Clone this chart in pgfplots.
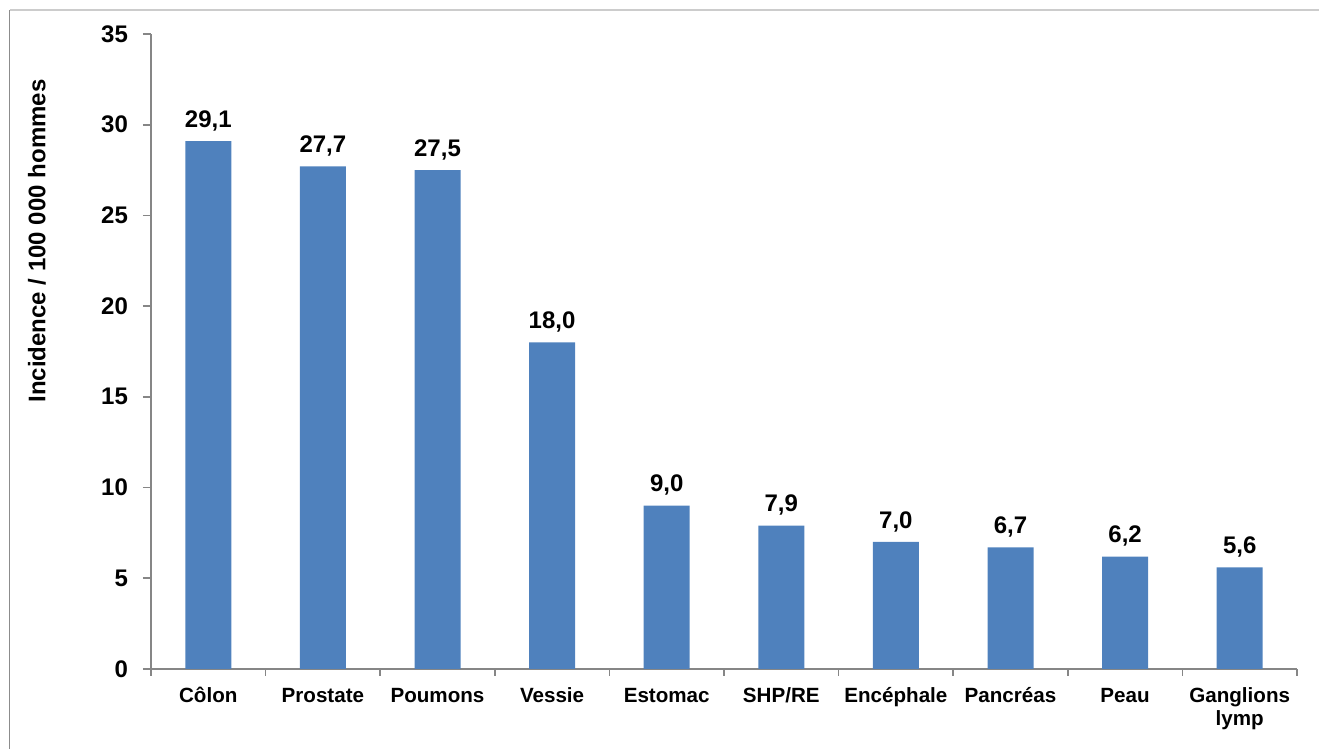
\documentclass[border=0pt]{standalone}
\usepackage{fontspec}
\setmainfont{Liberation Sans}
\usepackage{pgfplots}
\pgfplotsset{compat=1.18}
\definecolor{barblue}{HTML}{4F81BD}
\definecolor{axgray}{HTML}{868686}
\begin{document}
\begin{tikzpicture}
\useasboundingbox (0,0) rectangle (659.5pt,374.5pt);
\draw[color=black!45, line width=0.7pt] (4.75pt,0) -- (4.75pt,369.5pt);
\draw[color=black!20, line width=0.7pt] (4.75pt,369.5pt) -- (659.5pt,369.5pt);
\begin{axis}[
  at={(75.5pt,40pt)}, anchor=south west,
  scale only axis, width=573pt, height=317.5pt,
  xmin=-0.5, xmax=9.5, ymin=0, ymax=35,
  ytick={0,5,...,35},
  xtick={0,...,9},
  xticklabels={Côlon,Prostate,Poumons,Vessie,Estomac,SHP/RE,Encéphale,Pancréas,Peau,{\renewcommand{\arraystretch}{0.95}\begin{tabular}[t]{@{}c@{}}Ganglions\\lymp\end{tabular}}},
  minor xtick={-0.5,0.5,...,9.5},
  axis x line*=bottom, axis y line*=left,
  tick align=outside,
  major tick length=4pt,
  minor tick length=3.5pt,
  major x tick style={draw=none},
  axis line style={axgray, line width=0.8pt},
  every tick/.style={axgray, line width=0.8pt},
  /pgf/number format/assume math mode=true,
  yticklabel style={font=\fontsize{12}{14}\selectfont\bfseries, xshift=-4pt},
  xticklabel style={font=\fontsize{10.3}{12}\selectfont\bfseries, anchor=base, yshift=-12.8pt},
  ylabel={Incidence / 100 000 hommes},
  ylabel style={font=\fontsize{12}{14}\selectfont\bfseries, at={(axis description cs:-0.0995,0.674)}, anchor=center},
  ybar, bar width=23pt,
  nodes near coords, point meta=explicit symbolic,
  every node near coord/.append style={font=\fontsize{12}{14}\selectfont\bfseries, yshift=1.5pt},
]
\addplot[fill=barblue, draw=none] coordinates {
  (0,29.1) [29,1]
  (1,27.7) [27,7]
  (2,27.5) [27,5]
  (3,18.0) [18,0]
  (4,9.0) [9,0]
  (5,7.9) [7,9]
  (6,7.0) [7,0]
  (7,6.7) [6,7]
  (8,6.2) [6,2]
  (9,5.6) [5,6]
};
\end{axis}
\end{tikzpicture}
\end{document}
